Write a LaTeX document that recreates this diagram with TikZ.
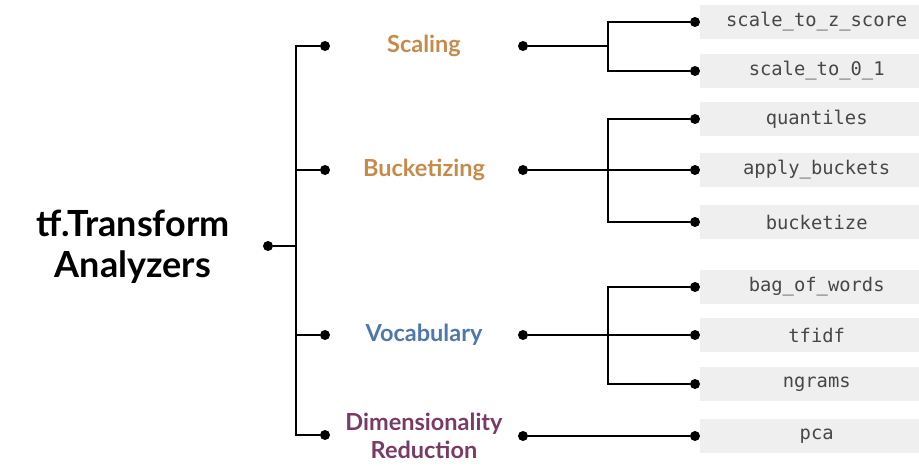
\documentclass[tikz,border=0pt]{standalone}
\usepackage{fontspec}
\setmainfont{Lato}
\newfontfamily\leafmono{DejaVu Sans Mono}
\usetikzlibrary{positioning}
\definecolor{scalecol}{HTML}{C68B4B}
\definecolor{vocabcol}{HTML}{4E77AE}
\definecolor{dimcol}{HTML}{7A3A66}
\definecolor{leafbg}{HTML}{EFEFEF}
\definecolor{leaftext}{HTML}{474747}
\tikzset{
  dot/.style={circle, fill, inner sep=0pt, minimum size=10pt, outer sep=0pt},
  wire/.style={draw, line width=2.8pt},
  rootlabel/.style={align=center, font=\fontsize{36}{41}\selectfont\bfseries},
  family/.style={align=center, font=\fontsize{23.5}{28}\selectfont\bfseries},
  leaf/.style={rectangle, fill=leafbg, anchor=west, minimum width=233pt, minimum height=34pt, text=leaftext, font=\fontsize{18.8}{20}\selectfont\leafmono}
  }

\begin{document}
\begin{tikzpicture}[x=1pt, y=-1pt]
	\useasboundingbox (0,0) rectangle (919,466);

	% Root
	\node[rootlabel] (root) at (133,247) {tf.Transform\\Analyzers};
	\node[dot] (rootdot) at (268,246) {};
	\coordinate (trunk) at (296,246);

	% Families
	\node[dot] (scaleL) at (325,46) {};
	\node[dot] (bucketL) at (325,170) {};
	\node[dot] (vocabL) at (325,335) {};
	\node[dot] (dimL) at (325,435) {};

	\node[family, text=scalecol] (scaling) at (424,46) {Scaling};
	\node[family, text=scalecol] (bucketizing) at (424,170) {Bucketizing};
	\node[family, text=vocabcol] (vocabulary) at (424,335) {Vocabulary};
	\node[family, text=dimcol] (dimred) at (424,436) {Dimensionality\\Reduction};

	\node[dot] (scaleR) at (523,46) {};
	\node[dot] (bucketR) at (523,170) {};
	\node[dot] (vocabR) at (523,335) {};
	\node[dot] (dimR) at (523,436) {};

	\coordinate (scalefork) at (608,46);
	\coordinate (bucketfork) at (608,170);
	\coordinate (vocabfork) at (608,335);

	% Leaves
	\node[dot] (zscoreD) at (695,22) {};
	\node[dot] (zeroD) at (695,71) {};
	\node[dot] (quantD) at (695,119) {};
	\node[dot] (applyD) at (695,170) {};
	\node[dot] (bucketizeD) at (695,222) {};
	\node[dot] (bagD) at (695,287) {};
	\node[dot] (tfidfD) at (695,335) {};
	\node[dot] (ngramD) at (695,384) {};
	\node[dot] (pcaD) at (695,436) {};

	\node[leaf] (zscore) at (700,22) {scale\_to\_z\_score};
	\node[leaf] (zero) at (700,71) {scale\_to\_0\_1};
	\node[leaf] (quant) at (700,119) {quantiles};
	\node[leaf] (apply) at (700,170) {apply\_buckets};
	\node[leaf] (bucketize) at (700,222) {bucketize};
	\node[leaf] (bag) at (700,287) {bag\_of\_words};
	\node[leaf] (tfidf) at (700,335) {tfidf};
	\node[leaf] (ngram) at (700,384) {ngrams};
	\node[leaf] (pca) at (700,436) {pca};

	% Lines
	\draw[wire] (rootdot) -- (trunk);
	\draw[wire] (scaleL) -| (trunk);
	\draw[wire] (bucketL) -| (trunk);
	\draw[wire] (vocabL) -| (trunk);
	\draw[wire] (dimL) -| (trunk);

	\draw[wire] (scaleR) -- (scalefork);
	\draw[wire] (zscoreD) -| (scalefork);
	\draw[wire] (zeroD) -| (scalefork);

	\draw[wire] (bucketR) -- (applyD);
	\draw[wire] (quantD) -| (bucketfork);
	\draw[wire] (bucketizeD) -| (bucketfork);

	\draw[wire] (vocabR) -- (tfidfD);
	\draw[wire] (bagD) -| (vocabfork);
	\draw[wire] (ngramD) -| (vocabfork);

	\draw[wire] (dimR) -- (pcaD);
\end{tikzpicture}
\end{document}
